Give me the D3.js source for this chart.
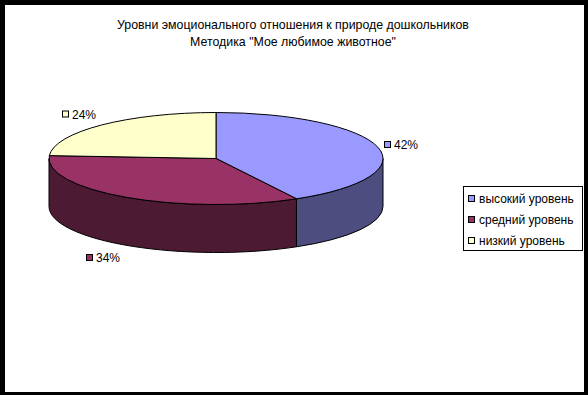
<!DOCTYPE html>
<html><head><meta charset="utf-8">
<script src="https://cdn.jsdelivr.net/npm/d3@7/dist/d3.min.js"></script>
<style>html,body{margin:0;padding:0;background:#fff}svg{display:block}text{font-family:"Liberation Sans",Arial,sans-serif;font-size:12px;fill:#000}text.t{font-size:12.35px}</style>
</head><body><svg id="c" width="588" height="395"></svg>
<script>
const categories = ["высокий уровень","средний уровень","низкий уровень"];
const values = [42,34,24];
const topColors = ["#9999FF","#993366","#FFFFCC"];
const sideColors = ["#4D4D80","#4D1A33","#808066"];
const titleLines = ["Уровни эмоционального отношения к природе дошкольников","Методика \"Мое любимое животное\""];

const svg = d3.select("#c");
svg.append("rect").attr("width",588).attr("height",395).attr("fill","#000");
svg.append("rect").attr("x",5).attr("y",5).attr("width",579).attr("height",387).attr("fill","#fff");

svg.selectAll("text.t").data(titleLines).join("text").attr("class","t")
  .attr("x",293).attr("y",(d,i)=>29+i*17).attr("text-anchor","middle").text(d=>d);

const cx=216, cy=158.5, rx=167, ry=46, depth=48;
const arcs = d3.pie().sort(null)(values);
const px=a=>cx+rx*Math.sin(a), py=a=>cy-ry*Math.cos(a);

// side wall, only the front half of the ellipse is visible
arcs.forEach((d,i)=>{
  const a0=Math.max(d.startAngle,Math.PI/2), a1=Math.min(d.endAngle,3*Math.PI/2);
  if(a1<=a0) return;
  const p=`M${px(a0)},${py(a0)}A${rx},${ry} 0 0 1 ${px(a1)},${py(a1)}L${px(a1)},${py(a1)+depth}A${rx},${ry} 0 0 0 ${px(a0)},${py(a0)+depth}Z`;
  svg.append("path").attr("d",p).attr("fill",sideColors[i]).attr("stroke","#000").attr("stroke-width",1);
});

// top faces
const arc=d3.arc().innerRadius(0).outerRadius(rx);
svg.append("g").attr("transform",`translate(${cx},${cy}) scale(1,${ry/rx})`)
  .selectAll("path").data(arcs).join("path")
  .attr("d",arc).attr("fill",(d,i)=>topColors[i]).attr("stroke","#000")
  .attr("stroke-width",1).attr("vector-effect","non-scaling-stroke");

// data labels
const labelPos=[[384,141],[86,254],[62,110.5]];
const labels=svg.selectAll("g.l").data(values).join("g").attr("class","l")
  .attr("transform",(d,i)=>`translate(${labelPos[i][0]},${labelPos[i][1]})`);
labels.append("rect").attr("x",.5).attr("y",.5).attr("width",6).attr("height",6)
  .attr("fill",(d,i)=>topColors[i]).attr("stroke","#000");
labels.append("text").attr("x",10).attr("y",8).text(d=>d+"%");

// legend
svg.append("rect").attr("x",463.5).attr("y",186.5).attr("width",119).attr("height",64).attr("fill","#fff").attr("stroke","#000");
const leg=svg.selectAll("g.k").data(categories).join("g").attr("class","k")
  .attr("transform",(d,i)=>`translate(468,${195+i*21})`);
leg.append("rect").attr("x",.5).attr("y",.5).attr("width",6).attr("height",6)
  .attr("fill",(d,i)=>topColors[i]).attr("stroke","#000");
leg.append("text").attr("x",11).attr("y",8).text(d=>d);
</script></body></html>
